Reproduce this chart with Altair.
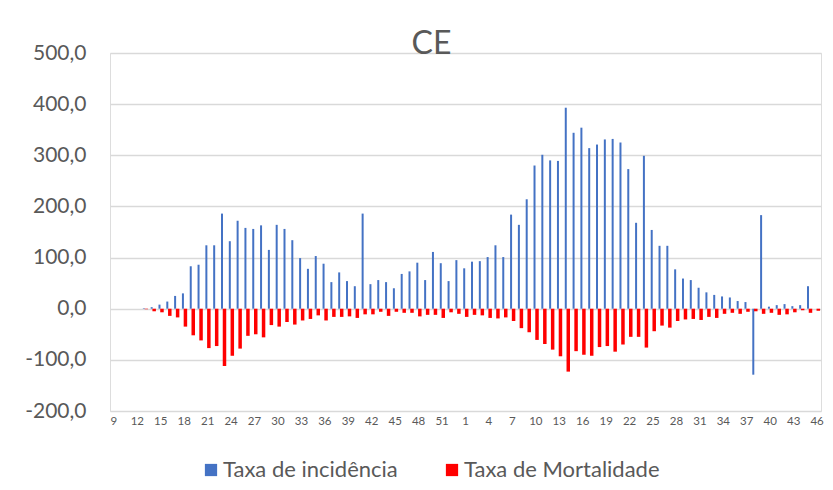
import altair as alt
import pandas as pd

# Epidemiological weeks: 2020 (weeks 9-53) and 2021 (weeks 1-46)
weeks_2020 = list(range(9, 54))
weeks_2021 = list(range(1, 47))

# Taxa de incidência (per week)
incid_2020 = [None, None, None, None, 1, 3, 8, 14, 25, 30,
              83, 86, 124, 124, 186, 132, 172, 158, 156, 163,
              115, 164, 156, 134, 99, 78, 103, 88, 52, 71,
              54, 44, 186, 48, 56, 52, 40, 68, 73, 90,
              56, 111, 89, 54, 95]
incid_2021 = [79, 92, 93, 101, 124, 101, 184, 164, 214, 280,
              301, 290, 289, 393, 344, 354, 314, 321, 331, 332,
              325, 273, 168, 299, 154, 123, 123, 77, 59, 56,
              41, 32, 27, 24, 22, 15, 13, -129, 183, 4,
              7, 9, 5, 7, 44, None]

# Taxa de Mortalidade (per week, plotted downward)
mort_2020 = [None, None, None, None, 1, 5, 7, 14, 17, 35,
             52, 62, 77, 73, 112, 92, 78, 53, 50, 56,
             32, 35, 26, 31, 23, 20, 13, 23, 16, 16,
             15, 18, 11, 11, 6, 14, 6, 8, 8, 15,
             12, 12, 18, 7, 10]
mort_2021 = [16, 12, 13, 18, 19, 17, 24, 38, 46, 61,
             69, 80, 93, 123, 83, 90, 92, 75, 73, 84,
             70, 55, 55, 76, 44, 33, 37, 24, 21, 20,
             22, 16, 18, 10, 8, 10, 6, 5, 10, 8,
             12, 11, 7, 3, 8, 4]

series_names = ["Taxa de incidência", "Taxa de Mortalidade"]
series_colors = ["#4472C4", "#FF0000"]

keys = [f"2020-{w}" for w in weeks_2020] + [f"2021-{w}" for w in weeks_2021]
incid = incid_2020 + incid_2021
mort = mort_2020 + mort_2021

rows = []
for k, a, b in zip(keys, incid, mort):
    rows.append({"key": k, "serie": series_names[0], "valor": a})
    rows.append({"key": k, "serie": series_names[1], "valor": (-b if b is not None else None)})
df = pd.DataFrame(rows)

x = alt.X(
    "key:O", sort=keys,
    scale=alt.Scale(paddingInner=0, paddingOuter=0),
    axis=alt.Axis(values=keys[::3], labelExpr="split(datum.label, '-')[1]",
                  title=None, ticks=False, domain=False, grid=False, labelAngle=0,
                  labelFontSize=11.5, labelColor="#595959", labelPadding=4,
                  labelFont="Lato"),
)
y = alt.Y(
    "valor:Q",
    scale=alt.Scale(domain=[-200, 500], nice=False, zero=False),
    axis=alt.Axis(values=list(range(-200, 501, 100)),
                  labelExpr="replace(replace(format(datum.value, '.1f'), '.', ','), '\u2212', '-')",
                  title=None, ticks=False, domain=False,
                  gridColor="#D9D9D9", gridWidth=1.3,
                  labelFontSize=21, labelColor="#595959", labelPadding=24,
                  labelFont="Lato"),
)
color = alt.Color(
    "serie:N",
    scale=alt.Scale(domain=series_names, range=series_colors),
    legend=alt.Legend(orient="none", legendX=90, legendY=406, direction="horizontal",
                      title=None, symbolType="square", symbolSize=150,
                      symbolStrokeWidth=0, labelFontSize=22, labelColor="#595959",
                      labelFont="Lato", columnPadding=43, labelOffset=1,
                      labelLimit=400),
)

base = alt.Chart(df).encode(x=x, y=y, color=color)
inc_bars = base.transform_filter(alt.datum.serie == series_names[0]).mark_bar(size=2, xOffset=-1.3)
mort_bars = base.transform_filter(alt.datum.serie == series_names[1]).mark_bar(size=3.5, xOffset=1.2)

chart = alt.layer(inc_bars, mort_bars).properties(
    width=711, height=358,
    title=alt.TitleParams("CE", fontSize=32, font="Lato", fontWeight="normal",
                          color="#595959", anchor="middle", dx=-34, dy=48,
                          baseline="alphabetic"),
    padding={"left": 102, "top": 45, "right": 4, "bottom": 71},
    autosize=alt.AutoSizeParams(type="none"),
).configure_view(strokeWidth=0).configure(background="white")

chart.save("out.html", embed_options={"renderer": "svg", "actions": False})
